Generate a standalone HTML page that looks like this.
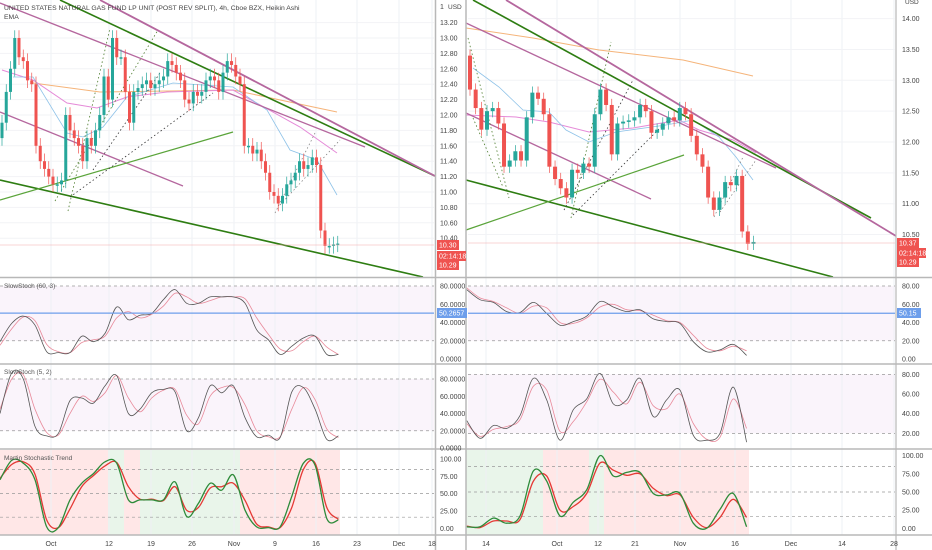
<!DOCTYPE html>
<html><head><meta charset="utf-8">
<style>
html,body{margin:0;padding:0;background:#fff;width:932px;height:550px;overflow:hidden}
svg{display:block;font-family:"Liberation Sans",sans-serif}
</style></head>
<body>
<svg id="c" width="932" height="550" viewBox="0 0 932 550"></svg>
<script>
// ===== DATA =====
const leftCloses=[11.9,12.3,12.6,13.0,12.75,12.7,12.45,12.4,11.6,11.4,11.3,11.2,11.1,11.1,11.15,12.0,11.8,11.7,11.6,11.4,11.7,11.6,11.8,12.0,12.5,12.2,13.0,12.75,12.75,12.3,11.9,12.3,12.35,12.4,12.45,12.35,12.4,12.45,12.5,12.7,12.65,12.55,12.45,12.2,12.15,12.3,12.25,12.3,12.45,12.5,12.45,12.3,12.55,12.7,12.65,12.5,12.4,11.6,11.6,11.5,11.55,11.4,11.25,11.0,10.95,10.85,10.95,11.1,11.15,11.25,11.4,11.3,11.35,11.45,11.35,10.5,10.3,10.3,10.32,10.33];
const rightCloses=[12.85,12.55,12.2,12.5,12.55,12.3,11.6,11.7,11.85,11.7,12.4,12.8,12.7,12.45,11.6,11.4,11.25,11.1,11.55,11.5,11.65,11.6,12.45,12.85,12.6,11.8,12.3,12.33,12.35,12.4,12.6,12.5,12.15,12.2,12.3,12.4,12.35,12.55,12.45,12.1,11.8,11.6,11.1,10.9,11.1,11.35,11.3,11.45,10.55,10.35,10.38];
const leftFirstOpen=11.7, rightFirstOpen=13.4;

const lStochSlowK=[19,39,47,37,8,7,7,25,19,28,57,43,48,50,65,76,61,61,68,68,68,61,32,21,5,14,23,25,5,5];
const lStochSlowD=[15,33,46,42,16,8,7,18,21,25,45,52,45,49,58,72,68,61,64,68,68,66,45,27,11,9,19,25,13,5];
const lStochFastK=[40,87,80,25,14,17,55,58,52,72,84,40,45,64,68,65,20,35,72,64,72,35,13,15,12,65,70,45,10,14];
const lStochFastD=[45,80,85,45,18,15,40,60,54,64,84,58,42,58,67,68,38,28,60,70,70,50,20,13,13,45,70,56,22,12];
const lTrendA=[70,98,94,70,2,1,41,65,79,96,94,41,41,41,41,67,17,36,65,55,77,26,2,1,2,46,94,91,14,12];
const lTrendB=[72,92,96,78,12,1,28,60,76,90,95,60,42,42,40,60,26,30,58,60,65,40,6,2,1,30,85,94,30,13];
const rS1K=[76,65,62,52,51,62,50,37,41,47,63,57,52,54,44,41,39,19,8,10,16,4];
const rS1D=[78,67,63,56,50,58,56,40,39,45,57,60,54,53,48,42,40,26,12,9,14,9];
const rS2K=[33,15,28,25,38,76,54,13,44,55,81,50,54,76,37,54,64,18,13,20,67,11];
const rS2D=[30,17,24,27,34,68,64,22,32,52,75,62,50,72,48,45,60,30,14,16,55,25];
const rTrA=[2,2,14,7,17,79,65,17,36,53,100,72,77,77,48,46,48,7,0,26,48,2];
const rTrB=[3,1,10,10,12,65,72,25,30,48,90,80,73,75,55,45,46,15,1,15,40,15];
const leftPriceTicks=[13.2,13.0,12.8,12.6,12.4,12.2,12.0,11.8,11.6,11.4,11.2,11.0,10.8,10.6,10.4];
const rightPriceTicks=[14.0,13.5,13.0,12.5,12.0,11.5,11.0,10.5];
const stochTicks=[80,60,40,20,0];
const trendTicks=[100,75,50,25,0];
const leftDates=["Oct","12","19","26","Nov","9","16","23","Dec","18"];
const rightDates=["14","Oct","12","21","Nov","16","Dec","14","28"];
const leftDatePos=[51,109,151,192,234,275,316,357,399,432];
const rightDatePos=[486,557,598,635,680,735,791,842,894];

// ===== SCALES =====
const yL=p=>115-(p-12)*77, yR=p=>142-(p-12)*61.7;
const xLc=i=>2+i*4.25, xRc=i=>470+i*5.67;
const xLs=i=>i*11.67, xRs=i=>466.7+i*13.33;
const yS1=v=>359-v*0.9125;
const yS2L=v=>448-v*0.8625, yS2R=v=>453-v*0.983;
const yTL=v=>528.3-v*0.693, yTR=v=>528.3-v*0.726;

const svg=document.getElementById('c');
const NS='http://www.w3.org/2000/svg';
function mk(tag,attrs,parent){const e=document.createElementNS(NS,tag);for(const k in attrs)e.setAttribute(k,attrs[k]);(parent||svg).appendChild(e);return e;}
function txt(x,y,s,size,fill,anchor){const t=mk('text',{x:x,y:y,'font-size':size,fill:fill,'text-anchor':anchor||'start'});t.textContent=s;return t;}

// shaded bands
[[0,434],[468,895]].forEach(([a,b],k)=>{
  let r=mk('rect',{x:a,y:yS1(80),width:b-a,height:yS1(20)-yS1(80),fill:'rgba(156,39,176,0.05)'});
  
  
  const f=k?yS2R:yS2L;
  r=mk('rect',{x:a,y:f(80),width:b-a,height:f(20)-f(80),fill:'rgba(156,39,176,0.05)'});
  
  
});
// trend backgrounds
[[0,108,'r'],[108,124,'g'],[124,140,'r'],[140,240,'g'],[240,340,'r'],[466,543,'g'],[543,589,'r'],[589,604,'g'],[604,749,'r']].forEach(s=>{
  const r=mk('rect',{x:s[0],y:450,width:s[1]-s[0],height:85,fill:s[2]=='r'?'rgba(255,82,82,0.14)':'rgba(76,175,80,0.12)'});
  
  
});

// grid
leftDatePos.forEach(x=>{const l=mk('line',{x1:x,y1:0,x2:x,y2:535,stroke:'#eef0f4'});});
rightDatePos.forEach(x=>{const l=mk('line',{x1:x,y1:0,x2:x,y2:535,stroke:'#eef0f4'});});
leftPriceTicks.forEach(p=>{const l=mk('line',{x1:0,y1:yL(p),x2:434,y2:yL(p),stroke:'#f2f3f6'});});
rightPriceTicks.forEach(p=>{const l=mk('line',{x1:468,y1:yR(p),x2:895,y2:yR(p),stroke:'#f2f3f6'});});

// dashed levels
function dash(a,b,y){const l=mk('line',{x1:a,y1:y,x2:b,y2:y,stroke:'#999','stroke-dasharray':'3,3','stroke-width':0.7});}
[80,20].forEach(v=>{dash(0,434,yS1(v));dash(468,895,yS1(v));dash(0,434,yS2L(v));dash(468,895,yS2R(v));});
[85,50,16].forEach(v=>{dash(0,434,yTL(v));dash(468,895,yTR(v));});

// ===== drawings (trendlines) =====
function ln(x1,y1,x2,y2,c,w,da,name){const l=mk('line',{x1,y1,x2,y2,stroke:c,'stroke-width':w});if(da)l.setAttribute('stroke-dasharray',da);}
function pl(pts,c,w,name){const p=mk('polyline',{points:pts.map(q=>q.join(',')).join(' '),fill:'none',stroke:c,'stroke-width':w});}
pl([[33,83],[100,92],[233,90],[337,112]],'#f5b47a',1,'ema-slow');
pl([[2,70],[33,80],[67,103],[97,108],[127,97],[167,92],[233,90],[300,127],[337,153]],'#e58ad8',1,'ema-mid');
pl([[13,77],[33,77],[67,133],[83,137],[103,127],[127,97],[173,83],[233,87],[267,110],[290,150],[317,160],[337,195]],'#8ec2e8',0.8,'ema-fast');
pl([[466,28],[533,38],[599,50],[683,60],[753,76]],'#f5b47a',1,'ema-slow');
pl([[466,115],[516,117],[549,122],[589,132],[633,128],[679,120],[699,130],[733,140],[756,153]],'#e58ad8',1,'ema-mid');
pl([[473,68],[499,87],[523,110],[549,112],[566,130],[589,142],[616,132],[666,125],[693,120],[719,137],[736,157],[753,180]],'#8ec2e8',0.8,'ema-fast');
ln(60,0,435,176,'#2e7d12',1.6,null,'resistance-line');
ln(100,0,435,176,'#b5679e',1.8,null,'resistance-line-pink');
ln(0,3,365,147,'#b5679e',1.3,null,'channel-line-upper');
ln(0,112,183,186,'#b5679e',1.3,null,'channel-line-lower');
ln(0,180,423,277,'#2e7d12',1.6,null,'support-line');
ln(0,200,233,132,'#5aa43a',1.2,null,'rising-line');
ln(68,211,110,28,'#4a7a2a',0.8,'1.5,2.5','dotted-channel');
ln(55,201,158,30,'#4a7a2a',0.8,'1.5,2.5','dotted-channel');
ln(70,197,213,93,'#333',0.8,'1.5,2.5','dotted-channel');
ln(93,170,160,73,'#333',0.8,'1.5,2.5','dotted-channel');
ln(275,213,315,133,'#777',0.7,'1.5,2.5','flag-line');
ln(280,205,340,140,'#777',0.7,'1.5,2.5','flag-line');
ln(473,0,871,218,'#2e7d12',1.6,null,'resistance-line');
ln(506,0,896,236,'#b5679e',1.8,null,'resistance-line-pink');
ln(466,23,776,168,'#b5679e',1.3,null,'channel-line-upper');
ln(466,113,651,199,'#b5679e',1.3,null,'channel-line-lower');
ln(466,180,833,277,'#2e7d12',1.6,null,'support-line');
ln(466,230,684,155,'#5aa43a',1.2,null,'rising-line');
ln(468,38,509,198,'#4a7a2a',0.8,'1.5,2.5','dotted-channel');
ln(473,118,503,187,'#4a7a2a',0.8,'1.5,2.5','dotted-channel');
ln(571,218,611,42,'#4a7a2a',0.8,'1.5,2.5','dotted-channel');
ln(564,210,633,80,'#333',0.8,'1.5,2.5','dotted-channel');
ln(573,215,668,120,'#333',0.8,'1.5,2.5','dotted-channel');
ln(714,217,743,157,'#777',0.7,'1.5,2.5','flag-line');
ln(720,212,756,160,'#777',0.7,'1.5,2.5','flag-line');

// ===== candles =====
function candles(closes,firstOpen,xf,yf,w,side){
  let prev=firstOpen;
  closes.forEach((c,i)=>{
    const o=prev, up=c>=o, col=up?'#26a69a':'#ef5350';
    const hi=Math.max(o,c)+0.1, lo=Math.min(o,c)-0.1;
    const x=xf(i);
    const wk=mk('line',{x1:x,y1:yf(hi),x2:x,y2:yf(lo),stroke:col,'stroke-width':0.7});
    
    
    const top=yf(Math.max(o,c)),bot=yf(Math.min(o,c));
    const b=mk('rect',{x:x-w/2,y:top,width:w,height:Math.max(1.5,bot-top),fill:col});
    
    
    prev=c;
  });
}
candles(leftCloses,leftFirstOpen,xLc,yL,3,'left');
candles(rightCloses,rightFirstOpen,xRc,yR,4,'right');

// ===== oscillator lines (smoothed) =====
function series(vals,xf,yf,col,w,name){
  const P=vals.map((v,i)=>[xf(i),yf(v)]);
  let d='M'+P[0][0].toFixed(1)+','+P[0][1].toFixed(1);
  for(let i=0;i<P.length-1;i++){
    const p0=P[Math.max(0,i-1)],p1=P[i],p2=P[i+1],p3=P[Math.min(P.length-1,i+2)];
    const c1=[p1[0]+(p2[0]-p0[0])/6,p1[1]+(p2[1]-p0[1])/6];
    const c2=[p2[0]-(p3[0]-p1[0])/6,p2[1]-(p3[1]-p1[1])/6];
    d+=' C'+c1.map(n=>n.toFixed(1)).join(',')+' '+c2.map(n=>n.toFixed(1)).join(',')+' '+p2.map(n=>n.toFixed(1)).join(',');
  }
  const p=mk('path',{d:d,fill:'none',stroke:col,'stroke-width':w});
  
  
}
series(lStochSlowD,xLs,yS1,'#e88a9a',0.8,'stoch60-d');
series(lStochSlowK,xLs,yS1,'#555',0.8,'stoch60-k');
series(lStochFastD,xLs,yS2L,'#e88a9a',0.8,'stoch5-d');
series(lStochFastK,xLs,yS2L,'#555',0.8,'stoch5-k');
series(lTrendB,xLs,yTL,'#e53935',1.3,'trend-signal');
series(lTrendA,xLs,yTL,'#2e8b3a',1.3,'trend-main');
series(rS1D,xRs,yS1,'#e88a9a',0.8,'stoch60-d');
series(rS1K,xRs,yS1,'#555',0.8,'stoch60-k');
series(rS2D,xRs,yS2R,'#e88a9a',0.8,'stoch5-d');
series(rS2K,xRs,yS2R,'#555',0.8,'stoch5-k');
series(rTrB,xRs,yTR,'#e53935',1.3,'trend-signal');
series(rTrA,xRs,yTR,'#2e8b3a',1.3,'trend-main');

[[0,434,50.27],[468,895,50.15]].forEach(d=>{
  const l=mk('line',{x1:d[0],y1:yS1(d[2]),x2:d[1],y2:yS1(d[2]),stroke:'#6d9eeb','stroke-width':1.3});
  
  
});

[[0,434,245],[468,895,243]].forEach(d=>{const l=mk('line',{x1:d[0],y1:d[2],x2:d[1],y2:d[2],stroke:'#f4a9a9','stroke-width':0.6});});

[277.5,364,449,535].forEach(y=>{[[0,466],[466,932]].forEach(s=>{const l=mk('line',{x1:s[0],y1:y,x2:s[1],y2:y,stroke:'#b8b8b8','stroke-width':1.5});});});
[[435.5,1.5],[466,1.5],[896,1.2]].forEach(d=>{const l=mk('line',{x1:d[0],y1:0,x2:d[0],y2:550,stroke:'#b8b8b8','stroke-width':d[1]});});

// ===== axis labels =====
const AC='#444';
leftPriceTicks.forEach(p=>{const t=txt(440,yL(p)+2.5,p.toFixed(2),7,AC);});
rightPriceTicks.forEach(p=>{const t=txt(902,yR(p)+2.5,p.toFixed(2),7,AC);});
let u=txt(440,9,'1',7,AC);
u=txt(448,9,'USD',6.5,AC);
u=txt(905,4,'USD',6.5,AC);
stochTicks.forEach(v=>{
  let t=txt(440,yS1(v)+2.5,v.toFixed(4),7,AC);
  t=txt(902,yS1(v)+2.5,v.toFixed(2),7,AC);
  t=txt(440,yS2L(v)+2.5,v.toFixed(4),7,AC);
  if(v>0){t=txt(902,yS2R(v)+2.5,v.toFixed(2),7,AC);}
});
trendTicks.forEach(v=>{
  let t=txt(440,yTL(v)+2.5,v.toFixed(2),7,AC);
  t=txt(902,yTR(v)+2.5,v.toFixed(2),7,AC);
});
leftDates.forEach((d,i)=>{const t=txt(leftDatePos[i],546,d,7,AC,'middle');});
rightDates.forEach((d,i)=>{const t=txt(rightDatePos[i],546,d,7,AC,'middle');});

function badge(x,y,w,s,bg,name){const r=mk('rect',{x:x,y:y-5,width:w,height:10,fill:bg});const t=txt(x+2,y+2.5,s,7,'#fff');}
badge(437,313,30,'50.2657','#6d9eeb','stoch-value-badge');
badge(897,313,24,'50.15','#6d9eeb','stoch-value-badge');
badge(437,245,22,'10.30','#ef5350','last-price-badge');
badge(437,256,29,'02:14:18','#ef5350','countdown-badge');
badge(437,265,22,'10.29','#ef5350','price-badge');
badge(897,243,22,'10.37','#ef5350','last-price-badge');
badge(897,253,29,'02:14:18','#ef5350','countdown-badge');
badge(897,262,22,'10.29','#ef5350','price-badge');

let t=txt(4,10,'UNITED STATES NATURAL GAS FUND LP UNIT (POST REV SPLIT), 4h, Cboe BZX, Heikin Ashi',6.8,'#444');

t=txt(4,19,'EMA',6.8,'#444');
t=txt(4,288,'SlowStoch (60, 3)',6.5,'#555');
t=txt(4,374,'SlowStoch (5, 2)',6.5,'#555');
t=txt(4,460,'Martin Stochastic Trend',6.5,'#555');
</script>
</body></html>
